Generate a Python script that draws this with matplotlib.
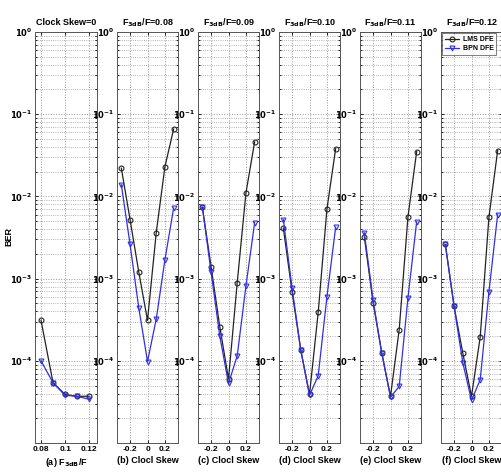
import numpy as np
import matplotlib
matplotlib.use("Agg")
import matplotlib.pyplot as plt
from matplotlib.ticker import FixedLocator, NullFormatter

plt.rcParams['font.family'] = ['Liberation Sans', 'DejaVu Sans']
plt.rcParams['font.weight'] = 'bold'
plt.rcParams['mathtext.default'] = 'bf'

# (a) BER vs F3dB/F at zero clock skew
f3db = [0.08, 0.09, 0.10, 0.11, 0.12]
lms_a = [3.1e-4, 5.4e-5, 3.9e-5, 3.7e-5, 3.7e-5]
bpn_a = [1.0e-4, 5.4e-5, 3.8e-5, 3.7e-5, 3.4e-5]

# (b)-(f) BER vs clock skew
skew = [-0.3, -0.2, -0.1, 0.0, 0.1, 0.2, 0.3]
ratios = ["0.08", "0.09", "0.10", "0.11", "0.12"]
lms_b = [2.2e-2, 5.2e-3, 1.2e-3, 3.1e-4, 3.6e-3, 2.3e-2, 6.6e-2]
bpn_b = [1.38e-2, 2.6e-3, 4.4e-4, 9.8e-5, 3.2e-4, 1.7e-3, 7.2e-3]
lms_c = [7.4e-3, 1.4e-3, 2.6e-4, 6.0e-5, 8.9e-4, 1.1e-2, 4.6e-2]
bpn_c = [7.4e-3, 1.2e-3, 2.0e-4, 5.3e-5, 1.15e-4, 8.1e-4, 4.8e-3]
lms_d = [4.1e-3, 6.9e-4, 1.35e-4, 3.9e-5, 3.9e-4, 7.0e-3, 3.8e-2]
bpn_d = [5.2e-3, 7.7e-4, 1.35e-4, 3.8e-5, 6.6e-5, 6.0e-4, 4.2e-3]
lms_e = [3.2e-3, 5.1e-4, 1.24e-4, 3.7e-5, 2.4e-4, 5.6e-3, 3.5e-2]
bpn_e = [3.6e-3, 5.5e-4, 1.24e-4, 3.6e-5, 4.9e-5, 5.8e-4, 4.9e-3]
lms_f = [2.6e-3, 4.6e-4, 1.24e-4, 3.7e-5, 1.95e-4, 5.6e-3, 3.6e-2]
bpn_f = [2.6e-3, 4.6e-4, 9.5e-5, 3.3e-5, 5.9e-5, 6.9e-4, 6.0e-3]

lms_all = [lms_b, lms_c, lms_d, lms_e, lms_f]
bpn_all = [bpn_b, bpn_c, bpn_d, bpn_e, bpn_f]
letters = ["b", "c", "d", "e", "f"]

W, H = 501, 472
fig = plt.figure(figsize=(W / 100, H / 100), dpi=100)

BLACK = '#222222'
BLUE = '#3030e0'
GRID = '#9a9a9a'
FS = 6.5


def style_axis(ax, xticks, xticklabels):
    ax.set_yscale('log')
    ax.set_ylim(1e-5, 1)
    ax.yaxis.set_major_locator(FixedLocator([1e-5, 1e-4, 1e-3, 1e-2, 1e-1, 1e0]))
    ax.set_yticklabels(['', '$10^{-4}$', '$10^{-3}$', '$10^{-2}$', '$10^{-1}$', '$10^{0}$'],
                       fontweight='bold')
    ax.yaxis.set_minor_locator(FixedLocator(
        [m * 10.0 ** e for e in range(-5, 0) for m in range(2, 10)]))
    ax.yaxis.set_minor_formatter(NullFormatter())
    ax.set_xticks(xticks)
    ax.set_xticklabels(xticklabels, fontweight='bold')
    ax.tick_params(which='both', direction='in', top=True, right=True,
                   labelsize=6, length=2.5, width=0.6, pad=2)
    ax.tick_params(which='minor', length=1.5)
    ax.grid(True, which='major', linestyle=':', color=GRID, linewidth=0.7)
    ax.grid(True, which='minor', axis='y', linestyle=':', color=GRID, linewidth=0.6)
    for s in ax.spines.values():
        s.set_linewidth(0.7)
        s.set_color('#555555')


def add_axes(left_px, width_px):
    return fig.add_axes([left_px / W, (H - 443) / H, width_px / W, (443 - 32) / H])


mk = dict(markersize=3.5, linewidth=0.9, markeredgewidth=0.8)

# panel (a)
ax = add_axes(35, 62)
ax.plot(f3db, lms_a, '-o', color=BLACK, markerfacecolor='none', label='LMS DFE', **mk)
ax.plot(f3db, bpn_a, '-v', color=BLUE, markerfacecolor='none', label='BPN DFE', **mk)
ax.set_xlim(0.075, 0.1265)
style_axis(ax, [0.08, 0.1, 0.12], ['0.08', '0.1', '0.12'])
ax.set_title('Clock Skew=0', fontsize=FS, fontweight='bold', pad=5)
ax.set_xlabel('(a) F$_{3dB}$/F', fontsize=FS, fontweight='bold', labelpad=2)
fig.text(9 / W, 1 - 237 / H, 'BER', rotation=90, fontsize=FS, fontweight='bold',
         ha='center', va='center')

lefts = [117, 198, 279, 360, 441]
for i, left in enumerate(lefts):
    ax = add_axes(left, 61)
    ax.plot(skew, lms_all[i], '-o', color=BLACK, markerfacecolor='none',
            label='LMS DFE', **mk)
    ax.plot(skew, bpn_all[i], '-v', color=BLUE, markerfacecolor='none',
            label='BPN DFE', **mk)
    ax.set_xlim(-0.35, 0.35)
    style_axis(ax, [-0.2, 0, 0.2], ['-0.2', '0', '0.2'])
    ax.set_title('F$_{3dB}$/F=' + ratios[i], fontsize=FS, fontweight='bold', pad=5)
    ax.set_xlabel('(%s) Clocl Skew' % letters[i], fontsize=FS, fontweight='bold',
                  labelpad=2)
    if i == len(lefts) - 1:
        leg = ax.legend(loc='upper left', fontsize=5, frameon=True, fancybox=False,
                        handlelength=2.0, borderpad=0.4, labelspacing=0.3,
                        handletextpad=0.5, borderaxespad=0.2)
        leg.get_frame().set_edgecolor('#444444')
        leg.get_frame().set_linewidth(0.6)

fig.savefig('out.png', dpi=100)
